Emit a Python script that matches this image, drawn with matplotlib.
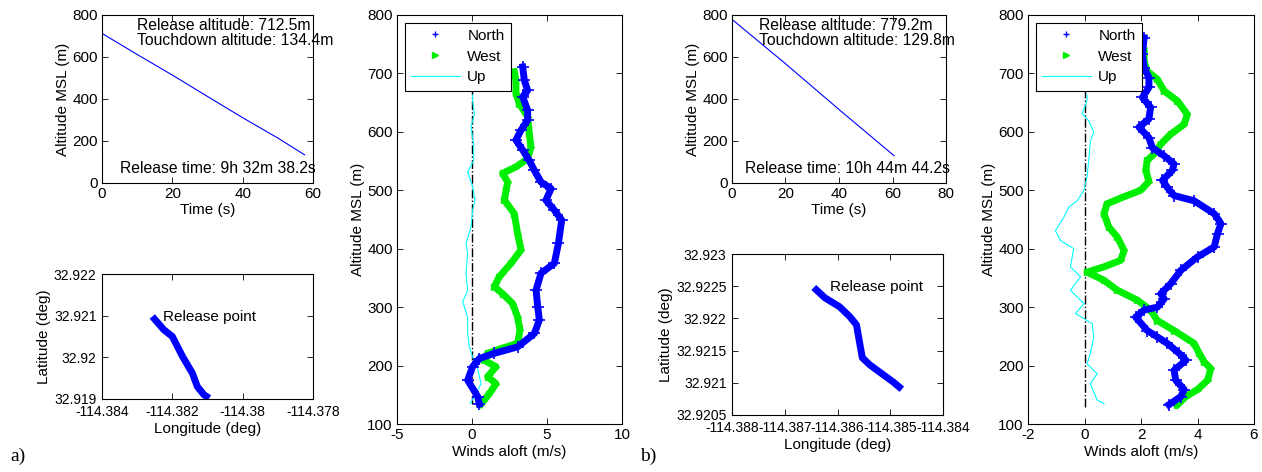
import matplotlib.pyplot as plt
from matplotlib.lines import Line2D
from matplotlib.ticker import FormatStrFormatter

plt.rcParams['font.family'] = ['Liberation Sans', 'DejaVu Sans']
plt.rcParams['font.size'] = 11
plt.rcParams['axes.unicode_minus'] = False

# ---- drop a) ----
a_release_alt = 712.5
a_touch_alt = 134.4
a_release_time = "9h 32m 38.2s"
a_time = [0, 10, 20, 30, 40, 50, 57.6]
a_alt = [712.5, 612, 514, 412, 311, 214, 134.4]
a_lon = [-114.38257, -114.38224, -114.3820, -114.38171, -114.38143, -114.38129, -114.3811, -114.38095]
a_lat = [32.92098, 32.92066, 32.9205, 32.92002, 32.91962, 32.9193, 32.9191, 32.91902]
a_north_alt = [134, 147, 175, 198, 212, 221, 232, 255, 278, 301, 329, 358, 375, 409, 449,
               466, 483, 503, 514, 534, 551, 569, 586, 603, 620, 637, 660, 671, 688, 711]
a_north = [0.49, 0.38, -0.29, 0.04, 0.49, 1.49, 3.04, 4.16, 4.49, 4.38, 4.27, 4.6, 5.49, 5.76, 5.98,
           5.49, 4.93, 5.27, 4.6, 4.16, 3.82, 3.38, 2.93, 3.27, 3.71, 3.71, 3.38, 3.71, 3.49, 3.38]
a_west_alt = [134, 152, 169, 181, 198, 209, 221, 229, 238, 261, 283, 306, 323, 335, 352, 375,
              398, 426, 460, 483, 500, 514, 529, 540, 554, 574, 597, 626, 648, 666, 688, 703]
a_west = [0.6, 1.16, 1.6, 1.04, 1.6, 0.82, 1.04, 1.93, 3.04, 3.2, 3.04, 2.71, 2.04, 1.49, 1.82, 2.6,
          3.27, 3.04, 2.82, 2.16, 2.27, 2.38, 2.04, 2.93, 3.71, 3.93, 3.82, 3.71, 3.16, 2.93, 2.93, 2.82]
a_up_alt = [135, 152, 169, 192, 215, 232, 255, 283, 309, 329, 358, 392, 409, 437, 466, 483,
            506, 531, 551, 580, 608, 631, 654, 663]
a_up = [-0.13, 0.27, 0.6, 0.4, 0.04, -0.18, -0.29, -0.29, -0.62, -0.29, -0.4, -0.29, -0.4, -0.07,
        0.04, 0.2, 0.04, -0.29, 0.11, 0.11, -0.07, 0.16, 0.04, 0.04]

# ---- drop b) ----
b_release_alt = 779.2
b_touch_alt = 129.8
b_release_time = "10h 44m 44.2s"
b_time = [0, 20, 40, 60.6]
b_alt = [779.2, 568, 350, 129.8]
b_lon = [-114.38645, -114.38624, -114.38596, -114.38577, -114.38564, -114.38558,
         -114.38553, -114.38539, -114.38514, -114.38494, -114.38478]
b_lat = [32.92248, 32.92232, 32.92218, 32.92203, 32.9219, 32.92162,
         32.92139, 32.92128, 32.92113, 32.92101, 32.9209]
b_north_alt = [133, 147, 159, 175, 192, 209, 221, 238, 249, 260, 283, 295, 300, 314, 323, 340,
               363, 386, 403, 426, 443, 460, 482, 491, 505, 517, 534, 545, 559, 573, 590, 608,
               622, 642, 659, 676, 693, 710, 733, 761]
b_north = [2.99, 3.41, 3.53, 3.23, 3.17, 3.59, 3.35, 2.93, 2.58, 2.22, 1.81, 2.11, 2.58, 2.82, 2.7,
           3.05, 3.41, 4.0, 4.59, 4.71, 4.83, 4.59, 3.88, 3.17, 2.93, 2.76, 3.11, 3.17, 2.82, 2.4,
           2.28, 1.93, 2.28, 2.34, 2.05, 2.28, 2.28, 2.11, 2.05, 2.11]
b_west_alt = [133, 147, 159, 175, 195, 206, 221, 238, 260, 277, 295, 312, 329, 346, 360, 369, 380,
              397, 420, 437, 460, 477, 489, 500, 515, 534, 551, 562, 579, 596, 613, 630, 653, 670,
              690, 704, 721, 739]
b_west = [3.29, 3.59, 4.0, 4.36, 4.47, 4.24, 4.06, 3.88, 3.17, 2.58, 2.34, 1.87, 1.16, 0.69, 0.09,
          0.69, 1.28, 1.4, 1.16, 0.86, 0.69, 0.8, 1.4, 1.99, 2.28, 2.17, 2.22, 2.46, 2.7, 3.05, 3.53,
          3.64, 3.29, 2.82, 2.58, 2.22, 2.11, 2.11]
b_up_alt = [135, 141, 169, 186, 203, 221, 249, 272, 289, 306, 329, 352, 369, 400, 414, 431, 454,
            471, 482, 500, 523, 551, 585, 599, 619, 631, 654, 663]
b_up = [0.69, 0.45, 0.21, 0.45, 0.09, 0.21, 0.33, 0.27, -0.32, -0.02, -0.5, -0.14, -0.5, -0.38,
        -0.85, -1.03, -0.73, -0.56, -0.26, -0.02, 0.09, 0.15, 0.21, 0.33, 0.15, -0.08, 0.09, 0.09]

W, H = 1262, 472
NARROW = ['Liberation Sans Narrow', 'Liberation Sans', 'DejaVu Sans']


def add_ax(fig, left, right, top, bottom):
    # pixel box -> figure fraction
    ax = fig.add_axes([left / W, 1 - bottom / H, (right - left) / W, (bottom - top) / H])
    ax.tick_params(direction='in', top=True, right=True, length=4, width=0.6, pad=3)
    for s in ax.spines.values():
        s.set_linewidth(0.8)
    return ax


def alt_panel(ax, t, alt, rel, touch, rtime, xmax):
    ax.plot(t, alt, color='b', lw=0.8)
    ax.set_xlim(0, xmax)
    ax.set_ylim(0, 800)
    ax.set_yticks([0, 200, 400, 600, 800])
    ax.text(10, 750, "Release altitude: %.1fm" % rel, va='center', fontsize=11.3)
    ax.text(10, 680, "Touchdown altitude: %.1fm" % touch, va='center', fontsize=11.3)
    ax.text(5, 70, "Release time: " + rtime, va='center', fontsize=11.3)
    ax.set_xlabel("Time (s)", labelpad=1)
    ax.set_ylabel("Altitude MSL (m)", labelpad=2)


def track_panel(ax, lon, lat, xlim, ylim, xticks, yticks):
    ax.plot(lon, lat, color='b', lw=5, solid_capstyle='butt')
    ax.text(lon[0] + 0.0003, lat[0], "Release point", va='center')
    ax.set_xlim(*xlim)
    ax.set_ylim(*ylim)
    ax.set_xticks(xticks)
    ax.set_yticks(yticks)
    ax.tick_params(axis='x', pad=4.5)
    ax.tick_params(axis='y', pad=4)
    ax.xaxis.set_major_formatter(FormatStrFormatter('%g'))
    ax.yaxis.set_major_formatter(FormatStrFormatter('%g'))
    for lab in ax.get_xticklabels() + ax.get_yticklabels():
        lab.set_family(NARROW)
        lab.set_fontsize(10)
    ax.set_xlabel("Longitude (deg)", labelpad=2)
    ax.set_ylabel("Latitude (deg)", labelpad=2)


def wind_panel(ax, n_alt, n, w_alt, w, u_alt, u, rel, touch, xlim, xticks):
    ax.plot([0, 0], [touch, rel], 'k-.', lw=1)
    ax.plot(u, u_alt, color='cyan', lw=0.8)
    ax.plot(w, w_alt, color='#00ee00', lw=5)
    ax.plot(w, w_alt, color='#00ee00', ls='none', marker='>', ms=4)
    ax.plot(n, n_alt, color='b', lw=5)
    ax.plot(n, n_alt, color='b', ls='none', marker='+', ms=8, mew=1.2)
    ax.set_xlim(*xlim)
    ax.set_xticks(xticks)
    ax.set_ylim(100, 800)
    ax.set_xlabel("Winds aloft (m/s)", labelpad=2)
    ax.set_ylabel("Altitude MSL (m)", labelpad=2)
    handles = [Line2D([], [], color='b', marker='+', ls='none', ms=5),
               Line2D([], [], color='#00ee00', marker='>', ls='none', ms=4),
               Line2D([], [], color='cyan', lw=0.8)]
    leg = ax.legend(handles, ["North", "West", "Up"], loc='upper left', fancybox=False,
                    framealpha=1, edgecolor='k', handlelength=3.2, handletextpad=0.5,
                    labelspacing=0.45, borderaxespad=0.5, borderpad=0.4)
    leg.get_frame().set_linewidth(0.8)


fig = plt.figure(figsize=(W / 100, H / 100), dpi=100)

ax = add_ax(fig, 102, 313, 15, 183)
alt_panel(ax, a_time, a_alt, a_release_alt, a_touch_alt, a_release_time, 60)
ax = add_ax(fig, 102, 313, 274, 399)
track_panel(ax, a_lon, a_lat, (-114.384, -114.378), (32.919, 32.922),
            [-114.384, -114.382, -114.380, -114.378], [32.919, 32.920, 32.921, 32.922])
ax = add_ax(fig, 397, 622, 15, 424)
wind_panel(ax, a_north_alt, a_north, a_west_alt, a_west, a_up_alt, a_up,
           a_release_alt, a_touch_alt, (-5, 10), [-5, 0, 5, 10])

ax = add_ax(fig, 732, 946, 15, 183)
alt_panel(ax, b_time, b_alt, b_release_alt, b_touch_alt, b_release_time, 80)
ax = add_ax(fig, 732, 943, 254, 415)
track_panel(ax, b_lon, b_lat, (-114.388, -114.384), (32.9205, 32.923),
            [-114.388, -114.387, -114.386, -114.385, -114.384],
            [32.9205, 32.921, 32.9215, 32.922, 32.9225, 32.923])
ax = add_ax(fig, 1028, 1254, 15, 424)
wind_panel(ax, b_north_alt, b_north, b_west_alt, b_west, b_up_alt, b_up,
           b_release_alt, b_touch_alt, (-2, 6), [-2, 0, 2, 4, 6])

fig.text(10 / W, 1 - 456 / H, "a)", family=['Liberation Serif', 'DejaVu Serif'], fontsize=14, va='center')
fig.text(640 / W, 1 - 456 / H, "b)", family=['Liberation Serif', 'DejaVu Serif'], fontsize=14, va='center')

fig.savefig("out.png", dpi=100)
